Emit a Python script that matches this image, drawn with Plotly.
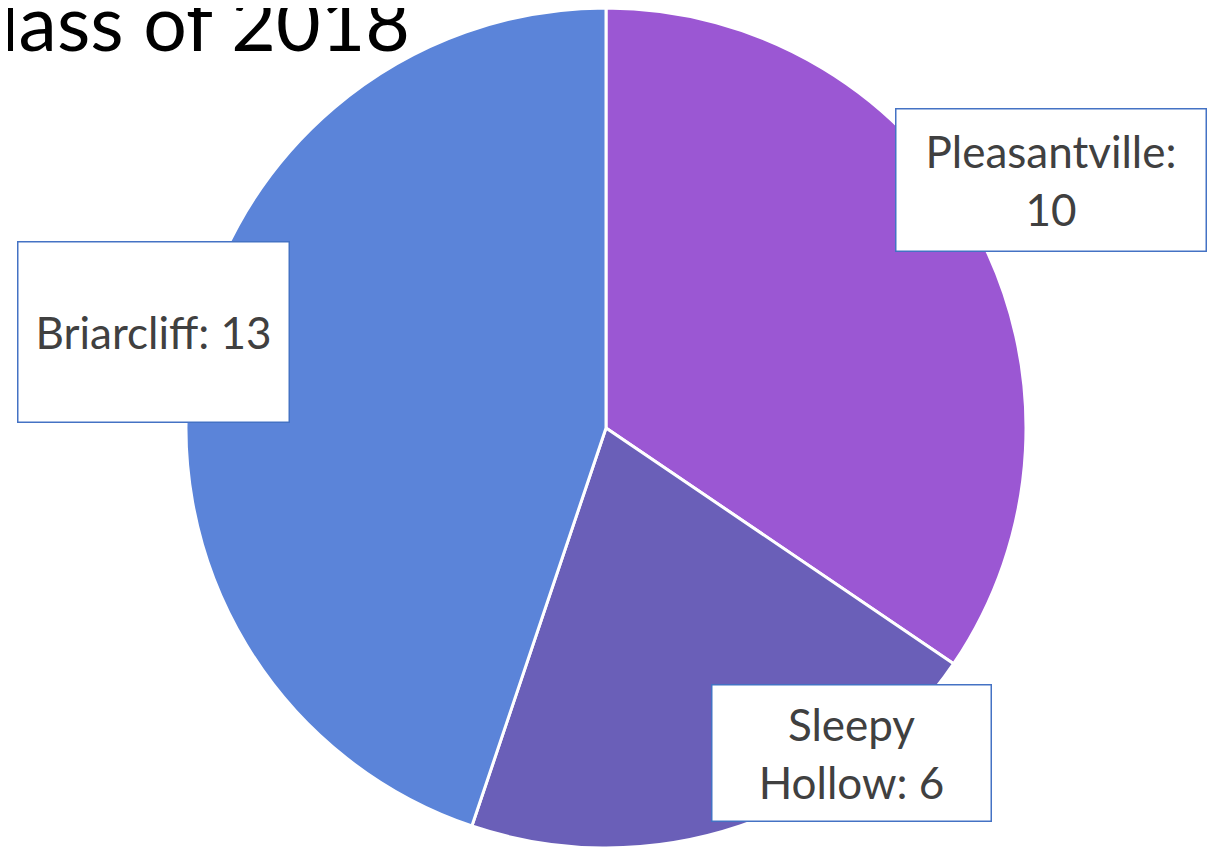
import plotly.graph_objects as go

towns = ["Pleasantville", "Sleepy Hollow", "Briarcliff"]
students = [10, 6, 13]
slice_colors = ["#9B57D3", "#6A5FB8", "#5B84D9"]
label_texts = ["Pleasantville:<br>10", "Sleepy<br>Hollow: 6", "Briarcliff: 13"]

# the page body has an 8px margin, so the figure is a bit smaller than the window
OFF = 8
W, H = 1222 - OFF, 852 - OFF


def fx(px):
    return (px - OFF) / W


def fy(py):
    return 1 - (py - OFF) / H


cx, cy, r = 606, 428, 420
fig = go.Figure(go.Pie(
    labels=towns,
    values=students,
    sort=False,
    direction="clockwise",
    rotation=0,
    marker=dict(colors=slice_colors, line=dict(color="white", width=3)),
    textinfo="none",
    hoverinfo="label+value",
    domain=dict(x=[fx(cx - r), fx(cx + r)], y=[max(fy(cy + r), 0), min(fy(cy - r), 1)]),
))

# label boxes (centre x, centre y in pixels from top, width, height)
boxes = [(1051, 180, 309, 141), (851, 753, 278, 135), (153, 332, 270, 179)]
for txt, (bx, by, bw, bh) in zip(label_texts, boxes):
    fig.add_annotation(
        x=fx(bx), y=fy(by), xref="paper", yref="paper",
        xanchor="center", yanchor="middle",
        text=txt, showarrow=False, align="center",
        width=bw, height=bh, borderpad=0,
        bgcolor="white", bordercolor="#4472C4", borderwidth=1.5,
        font=dict(family="Lato", size=44, color="#404040"),
    )

# title, partly cut off at the top-left like the original slide
fig.add_annotation(
    x=fx(412), y=fy(21), xref="paper", yref="paper",
    xanchor="right", yanchor="middle",
    text="Class of 2018", showarrow=False,
    font=dict(family="Lato", size=77, color="black"),
)

fig.update_layout(
    width=W, height=H,
    margin=dict(l=0, r=0, t=0, b=0),
    showlegend=False,
    paper_bgcolor="white",
)

fig.write_html("out.html")
